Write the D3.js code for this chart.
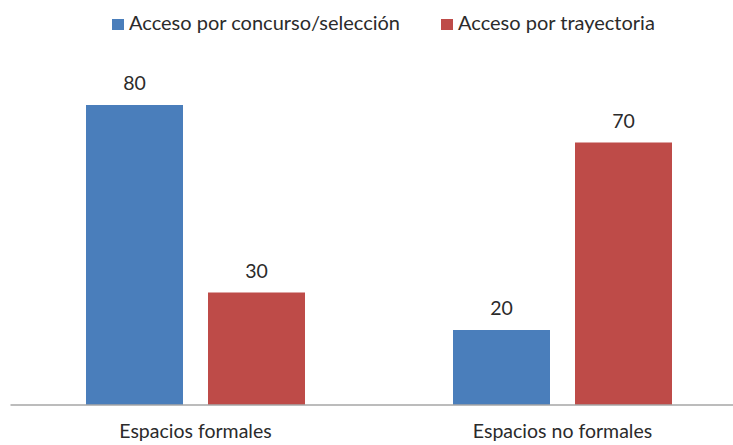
<!DOCTYPE html>
<html>
<head>
<meta charset="utf-8">
<script src="https://cdn.jsdelivr.net/npm/d3@7"></script>
<style>
  body { margin: 0; background: #fff; }
  text { font-family: Lato, "Open Sans", sans-serif; fill: #2b2b2b; }
</style>
</head>
<body>
<svg id="chart" width="733" height="445"></svg>
<script>
// Chart data
const categories = ["Espacios formales", "Espacios no formales"];
const seriesNames = ["Acceso por concurso/selección", "Acceso por trayectoria"];
const concurso = [80, 20];
const trayectoria = [30, 70];
const seriesColors = ["#4a7ebb", "#be4b48"];

const svg = d3.select("svg#chart");

// Scales
const x = d3.scaleBand()
    .domain(categories)
    .range([12, 746])
    .paddingInner(0)
    .paddingOuter(0);

const inner = d3.scaleBand()
    .domain(seriesNames)
    .range([74, x.bandwidth() - 74])
    .paddingInner(0.205);

const y = d3.scaleLinear()
    .domain([0, 80])
    .range([405, 105]);

const rows = categories.map((c, i) => ({
    category: c,
    values: [concurso[i], trayectoria[i]]
}));

// Bars grouped by category
const group = svg.selectAll("g.cat")
    .data(rows)
    .enter()
    .append("g")
    .attr("class", "cat")
    .attr("transform", d => "translate(" + x(d.category) + ",0)");

const bar = group.selectAll("g.bar")
    .data(d => d.values.map((v, i) => ({ name: seriesNames[i], value: v, color: seriesColors[i] })))
    .enter()
    .append("g")
    .attr("class", "bar");

bar.append("rect")
    .attr("x", d => inner(d.name))
    .attr("y", d => y(d.value))
    .attr("width", inner.bandwidth())
    .attr("height", d => y(0) - y(d.value))
    .attr("fill", d => d.color);

// Value labels
bar.append("text")
    .attr("x", d => inner(d.name) + inner.bandwidth() / 2)
    .attr("y", d => y(d.value) - 15)
    .attr("text-anchor", "middle")
    .style("font-size", "19.5px")
    .text(d => d.value);

// Baseline axis
const axis = svg.append("g")
    .attr("transform", "translate(0," + y(0) + ")")
    .call(d3.axisBottom(x).tickSize(0).tickPadding(19));

axis.select(".domain")
    .attr("stroke", "#a6a6a6")
    .attr("stroke-width", 1.5)
    .attr("d", "M10.5,0H746");

axis.selectAll(".tick text")
    .style("font-size", "19.5px")
    .style("font-family", "Lato, 'Open Sans', sans-serif")
    .attr("fill", "#2b2b2b");

// Legend
const legendX = [112, 441];
const legend = svg.selectAll("g.legend")
    .data(seriesNames)
    .enter()
    .append("g")
    .attr("class", "legend")
    .attr("transform", (d, i) => "translate(" + legendX[i] + ",19)");

legend.append("rect")
    .attr("width", 12)
    .attr("height", 11)
    .attr("fill", (d, i) => seriesColors[i]);

legend.append("text")
    .attr("x", 17)
    .attr("y", 11)
    .style("font-size", "20px")
    .text(d => d);
</script>
</body>
</html>
